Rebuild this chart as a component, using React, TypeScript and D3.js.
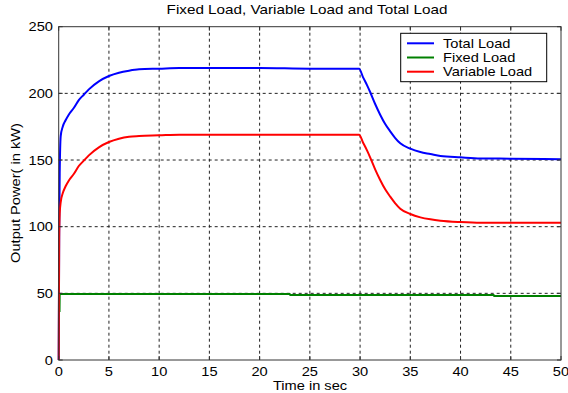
import { useEffect, useRef } from "react";
import * as d3 from "d3";

// tiempos (s) y potencias (kW)
const tiempos = [0, 0.05, 0.1, 0.2, 0.4, 0.7, 1, 1.5, 2, 2.5, 3, 4, 5, 6, 7, 8, 10, 12, 15, 20, 25, 29.9, 30.3, 30.7, 31, 31.5, 32, 32.5, 33, 33.5, 34, 35, 36, 37, 38, 40, 42, 45, 50];
const cargaTotal = [0, 95, 140, 168, 175, 180, 184, 189, 195, 199, 203, 209, 213, 215.5, 217, 218, 218.5, 219, 219, 219, 218.5, 218.5, 212, 206, 201, 192, 184, 177, 171.5, 166.5, 162.5, 158.5, 156, 154.5, 153, 152, 151.2, 151, 150.5];
const cargaVariable = [0, 92, 110, 118.5, 125, 130.5, 134.5, 139.5, 145.5, 149.5, 153.5, 159.5, 163.5, 166, 167.5, 168, 168.5, 169, 169, 169, 169, 169, 163, 157, 152, 143, 135, 128, 122.5, 117.5, 113.5, 109.5, 107, 105.5, 104.5, 103.5, 103, 103, 103];
const tiemposFija = [0.08, 0.1, 23, 23.05, 43.3, 43.35, 50];
const cargaFija = [36, 49.5, 49.5, 48.8, 48.8, 48, 48];

const xTicks = [0, 5, 10, 15, 20, 25, 30, 35, 40, 45, 50];
const yTicks = [0, 50, 100, 150, 200, 250];

const series = [
  { nombre: "Total Load", t: tiempos, v: cargaTotal, color: "#0000ff", curva: d3.curveMonotoneX },
  { nombre: "Fixed Load", t: tiemposFija, v: cargaFija, color: "#008000", curva: d3.curveLinear },
  { nombre: "Variable Load", t: tiempos, v: cargaVariable, color: "#ff0000", curva: d3.curveMonotoneX },
];

const App = () => {
  const ref = useRef<SVGSVGElement | null>(null);

  useEffect(() => {
    if (!ref.current) return;
    const svg = d3.select(ref.current);
    svg.selectAll("*").remove();

    const width = 568;
    const height = 393;
    const m = { left: 58.7, right: 561, top: 26.7, bottom: 360 };
    const fuente = "'Liberation Sans', Arial, sans-serif";
    const sx = 1.22; // el texto original está estirado en horizontal

    const x = d3.scaleLinear().domain([0, 50]).range([m.left, m.right]);
    const y = d3.scaleLinear().domain([0, 250]).range([m.bottom, m.top]);

    svg.append("rect").attr("width", width).attr("height", height).attr("fill", "#fff");

    const texto = (tx: number, ty: number, s: string, anchor: string, size = 12, rot = 0) =>
      svg
        .append("text")
        .attr("transform", `translate(${tx},${ty}) rotate(${rot}) scale(${sx},1)`)
        .attr("text-anchor", anchor)
        .style("font-family", fuente)
        .style("font-size", `${size}px`)
        .style("fill", "#000")
        .text(s);

    // rejilla punteada
    const grid = svg.append("g").attr("stroke", "#222").attr("stroke-width", 1).attr("stroke-dasharray", "3,3");
    xTicks.slice(1, -1).forEach((t) => {
      grid.append("line").attr("x1", x(t)).attr("x2", x(t)).attr("y1", m.top).attr("y2", m.bottom);
    });
    yTicks.slice(1, -1).forEach((v) => {
      grid.append("line").attr("x1", m.left).attr("x2", m.right).attr("y1", y(v)).attr("y2", y(v));
    });

    // curvas
    series.forEach((s) => {
      const linea = d3
        .line<[number, number]>()
        .x((d) => x(d[0]))
        .y((d) => y(d[1]))
        .curve(s.curva);
      const pts = s.t.map((t, i) => [t, s.v[i]] as [number, number]);
      svg
        .append("path")
        .attr("d", linea(pts))
        .attr("fill", "none")
        .attr("stroke", s.color)
        .attr("stroke-width", 2)
        .attr("stroke-linejoin", "round");
    });

    // marco de ejes
    svg
      .append("rect")
      .attr("x", m.left)
      .attr("y", m.top)
      .attr("width", m.right - m.left)
      .attr("height", m.bottom - m.top)
      .attr("fill", "none")
      .attr("stroke", "#333")
      .attr("stroke-width", 1);

    // marcas y etiquetas
    const marcas = svg.append("g").attr("stroke", "#333").attr("stroke-width", 1);
    xTicks.forEach((t) => {
      marcas.append("line").attr("x1", x(t)).attr("x2", x(t)).attr("y1", m.bottom).attr("y2", m.bottom - 4);
      marcas.append("line").attr("x1", x(t)).attr("x2", x(t)).attr("y1", m.top).attr("y2", m.top + 4);
      texto(x(t), 376, String(t), "middle");
    });
    yTicks.forEach((v) => {
      marcas.append("line").attr("x1", m.left).attr("x2", m.left + 4).attr("y1", y(v)).attr("y2", y(v));
      marcas.append("line").attr("x1", m.right).attr("x2", m.right - 4).attr("y1", y(v)).attr("y2", y(v));
      texto(53, y(v) + 4.5, String(v), "end");
    });

    // títulos
    texto(307, 14, "Fixed Load, Variable Load and Total Load", "middle", 12.5);
    texto(310, 390, "Time in sec", "middle", 12);
    texto(20, 193, "Output Power( in kW)", "middle", 12, -90);

    // leyenda
    const leyenda = svg.append("g");
    leyenda
      .append("rect")
      .attr("x", 400.7)
      .attr("y", 33.3)
      .attr("width", 146)
      .attr("height", 48.4)
      .attr("fill", "#fff")
      .attr("stroke", "#000")
      .attr("stroke-width", 1);
    series.forEach((s, i) => {
      const ly = 43.3 + i * 14.2;
      leyenda
        .append("line")
        .attr("x1", 407)
        .attr("x2", 434)
        .attr("y1", ly)
        .attr("y2", ly)
        .attr("stroke", s.color)
        .attr("stroke-width", 2);
      texto(443, ly + 4.5, s.nombre, "start", 12);
    });
  }, []);

  return <svg ref={ref} width={568} height={393} style={{ position: "absolute", left: 0, top: 0 }} />;
};

export default App;
